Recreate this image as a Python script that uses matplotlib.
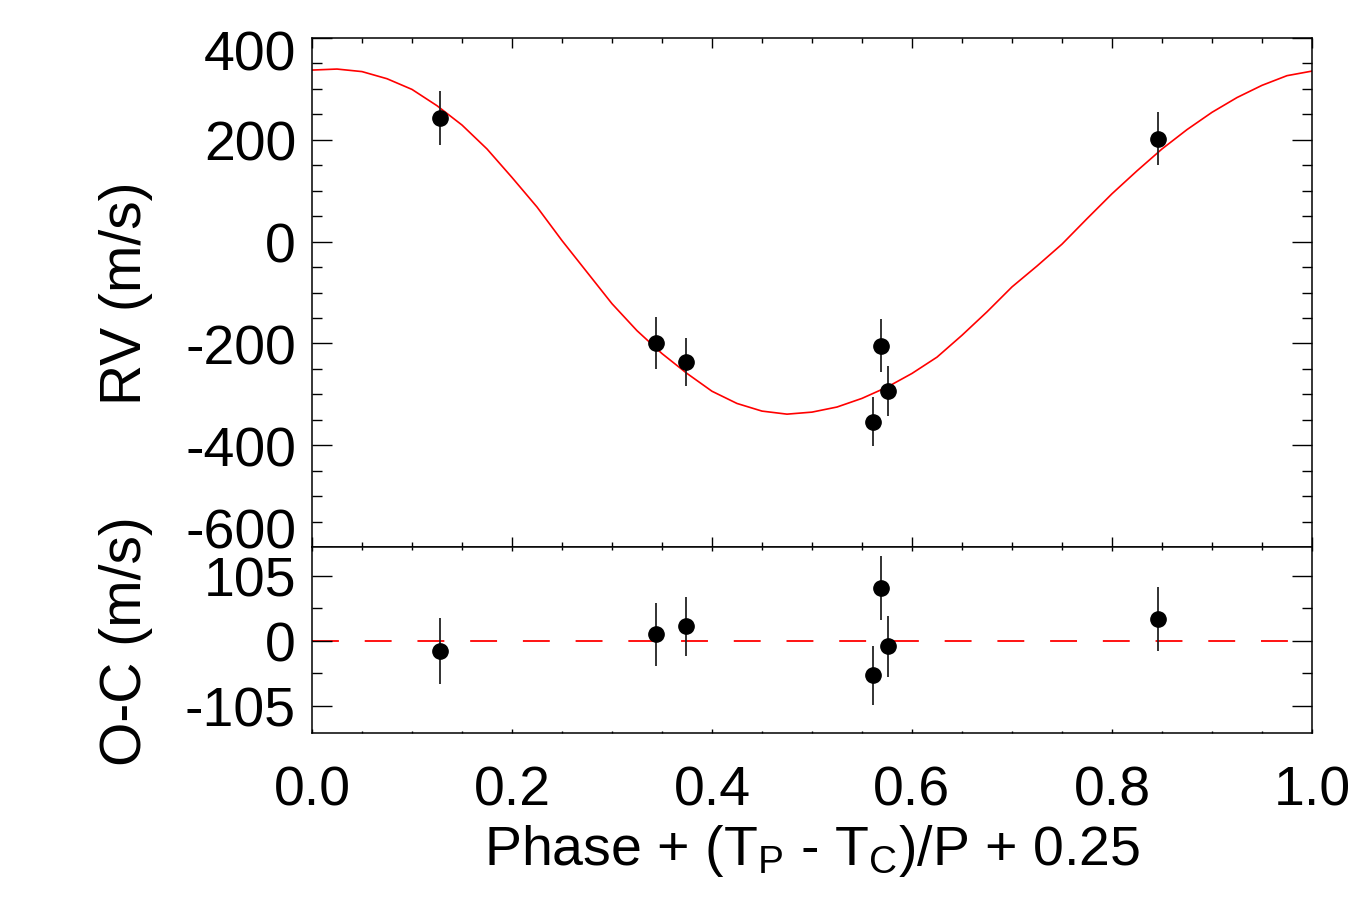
import matplotlib
matplotlib.use('Agg')
import matplotlib.pyplot as plt
from matplotlib.ticker import MultipleLocator

plt.rcParams['font.family'] = ['Liberation Sans', 'DejaVu Sans']
plt.rcParams['mathtext.fontset'] = 'custom'
plt.rcParams['mathtext.rm'] = 'Liberation Sans'
plt.rcParams['mathtext.it'] = 'Liberation Sans'

# measured radial velocities
phase = [0.128, 0.344, 0.374, 0.561, 0.569, 0.576, 0.846]
rv = [242, -199, -236, -354, -205, -293, 202]
rv_err = [53, 51, 47, 48, 52, 49, 52]
# observed - computed
resid = [-17, 10, 23, -56, 85, -9, 35]

# orbit model
model_phase = [0.000, 0.025, 0.050, 0.075, 0.100, 0.125, 0.150, 0.175, 0.200, 0.225,
               0.250, 0.275, 0.300, 0.325, 0.350, 0.375, 0.400, 0.425, 0.450, 0.475,
               0.500, 0.525, 0.550, 0.575, 0.600, 0.625, 0.650, 0.675, 0.700, 0.725,
               0.750, 0.775, 0.800, 0.825, 0.850, 0.875, 0.900, 0.925, 0.950, 0.975,
               1.000]
model_rv = [337, 339, 334, 320, 299, 267, 229, 182, 126, 68,
            2, -60, -122, -175, -220, -259, -294, -318, -333, -339,
            -335, -325, -308, -286, -259, -227, -184, -138, -89, -48,
            -5, 45, 94, 139, 182, 220, 254, 283, 307, 326,
            335]

rv_ticks = [-600, -400, -200, 0, 200, 400]
rv_labels = ['', '-400', '-200', '0', '200', '']
oc_ticks = [-105, 0, 105]
oc_labels = ['-105', '0', '105']
x_ticks = [0.0, 0.2, 0.4, 0.6, 0.8, 1.0]
x_labels = ['0.0', '0.2', '0.4', '0.6', '0.8', '1.0']

fig = plt.figure(figsize=(13.71, 9.12), dpi=100)
ax1 = fig.add_axes([0.22757, 0.39912, 0.72939, 0.55811])
ax2 = fig.add_axes([0.22757, 0.19572, 0.72939, 0.20340])

# top panel
ax1.plot(model_phase, model_rv, color='red', lw=1.2, zorder=2)
ax1.errorbar(phase, rv, yerr=rv_err, fmt='o', color='black', ms=11,
             ecolor='#222222', elinewidth=1.3, capsize=0, zorder=3)
ax1.set_xlim(0, 1)
ax1.set_ylim(-600, 400)
ax1.set_xticks(x_ticks)
ax1.xaxis.set_minor_locator(MultipleLocator(0.05))
ax1.set_yticks(rv_ticks, rv_labels)
ax1.yaxis.set_minor_locator(MultipleLocator(50))
ax1.tick_params(which='both', direction='in', top=True, right=True,
                labelbottom=False, width=1.0)
ax1.tick_params(axis='y', which='major', length=14.4, labelsize=40, pad=11.5)
ax1.tick_params(axis='y', which='minor', length=7.2)
ax1.tick_params(axis='x', which='major', length=7.2)
ax1.tick_params(axis='x', which='minor', length=3.6)
ytr = ax1.get_yaxis_transform()
ax1.annotate('400', xy=(0, 400), xycoords=ytr, xytext=(-11.5, -8.5),
             textcoords='offset points', ha='right', va='center_baseline', fontsize=40)
ax1.annotate('-600', xy=(0, -600), xycoords=ytr, xytext=(-11.5, 14),
             textcoords='offset points', ha='right', va='center_baseline', fontsize=40)
ax1.set_ylabel('RV (m/s)', fontsize=41, va='center')
ax1.yaxis.set_label_coords(-0.186, 0.5)

# residual panel
ax2.axhline(0, color='red', lw=1.3, ls=(0, (14.9, 14.3)), zorder=1)
ax2.errorbar(phase, resid, yerr=rv_err, fmt='o', color='black', ms=11,
             ecolor='#222222', elinewidth=1.3, capsize=0, zorder=3)
ax2.set_xlim(0, 1)
ax2.set_ylim(-148, 151)
ax2.set_xticks(x_ticks, x_labels)
ax2.xaxis.set_minor_locator(MultipleLocator(0.05))
ax2.set_yticks(oc_ticks, oc_labels)
ax2.yaxis.set_minor_locator(MultipleLocator(52.5))
ax2.tick_params(which='both', direction='in', top=True, right=True, width=1.0)
ax2.tick_params(axis='y', which='major', length=14.4, labelsize=40, pad=11.5)
ax2.tick_params(axis='y', which='minor', length=7.2)
ax2.tick_params(axis='x', which='major', length=3.2, labelsize=40, pad=22.7)
ax2.tick_params(axis='x', which='minor', length=1.8)
ax2.set_ylabel('O-C (m/s)', fontsize=41, va='center')
ax2.yaxis.set_label_coords(-0.186, 0.5)
ax2.set_xlabel(r'Phase + (T$_\mathrm{P}$ - T$_\mathrm{C}$)/P + 0.25',
               fontsize=40, va='baseline')
ax2.xaxis.set_label_coords(0.5, -0.709)

for ax in (ax1, ax2):
    for sp in ax.spines.values():
        sp.set_linewidth(1.1)

fig.savefig('out.png', dpi=100)
